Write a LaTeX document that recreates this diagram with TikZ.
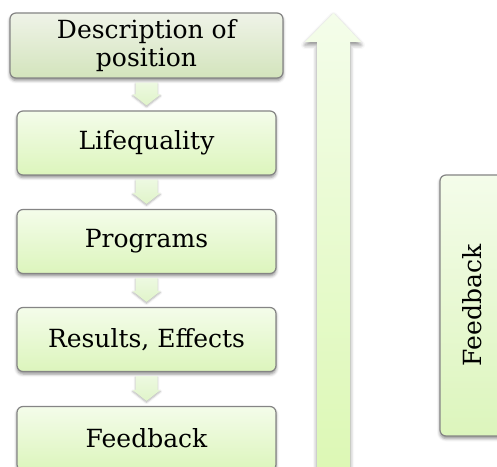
\documentclass[tikz,border=0pt]{standalone}
\usepackage{fontspec}
\setmainfont{DejaVu Serif}
\usetikzlibrary{shadows.blur,calc}

\definecolor{headtop}{HTML}{EFF3E8}
\definecolor{headbottom}{HTML}{D3E4BC}
\definecolor{boxtop}{HTML}{F4FCEA}
\definecolor{boxbottom}{HTML}{DCF5BC}
\definecolor{boxedge}{HTML}{858585}
\definecolor{arrowtop}{HTML}{EDF9E1}
\definecolor{arrowbottom}{HTML}{E0F4C9}
\definecolor{bigtop}{HTML}{F4FDEA}
\definecolor{bigbottom}{HTML}{DCF8B4}

\begin{document}
\begin{tikzpicture}[x=1pt,y=1pt,
  stage/.style={rounded corners=6pt, draw=boxedge, line width=1.2pt,
    top color=boxtop, bottom color=boxbottom,
    minimum width=259pt, minimum height=64pt, inner sep=0pt,
    font=\fontsize{25}{28}\selectfont, align=center,
    blur shadow={shadow xshift=0pt, shadow yshift=-2.5pt,
      shadow blur radius=3pt, shadow opacity=45}},
  headstage/.style={stage, minimum width=273pt, minimum height=65pt,
    top color=headtop, bottom color=headbottom},
  stepdown/.style={top color=arrowtop, bottom color=arrowbottom,
    blur shadow={shadow xshift=0pt, shadow yshift=-1.5pt,
      shadow blur radius=2pt, shadow opacity=30}},
  bigarrow/.style={top color=bigtop, bottom color=bigbottom,
    blur shadow={shadow xshift=0pt, shadow yshift=-3pt,
      shadow blur radius=4pt, shadow opacity=45}},
  sidebox/.style={rounded corners=6pt, draw=boxedge, line width=1.2pt,
    top color=boxtop, bottom color=boxbottom,
    minimum width=65pt, minimum height=261pt,
    blur shadow={shadow xshift=0pt, shadow yshift=-2.5pt,
      shadow blur radius=3pt, shadow opacity=45}},
  sidelabel/.style={rotate=90, font=\fontsize{25}{28}\selectfont}
]
\useasboundingbox (0,0) rectangle (497,466);
\clip (0,0) rectangle (497,466);

% flow of stages
\node[headstage] (desc) at (146.5,420.5) {Description of\\position};
\node[stage] (life) at (146.5,323) {Lifequality};
\node[stage] (prog) at (146.5,224.5) {Programs};
\node[stage] (res)  at (146.5,126.5) {Results, Effects};
\node[stage] (fb)   at (146.5,27.5) {Feedback};

% short block arrows between consecutive stages
\newcommand\stagearrow[2]{%
  \path[stepdown] let \p1=(#1.south), \p2=(#2.north) in
    (\x1-11,\y1-4) -- (\x1+11,\y1-4) -- (\x1+11,\y2+16) -- (\x1+14,\y2+16)
    -- (\x1,\y2+5) -- (\x1-14,\y2+16) -- (\x1-11,\y2+16) -- cycle;}
\stagearrow{desc}{life}
\stagearrow{life}{prog}
\stagearrow{prog}{res}
\stagearrow{res}{fb}

% long upward return arrow
\path[bigarrow] (317,-10) -- (350,-10) -- (350,424) -- (361,424)
  -- (333.5,453) -- (305,424) -- (317,424) -- cycle;

% feedback box on the right
\node[sidebox] (loop) at (472.5,160.5) {};
\node[sidelabel] (looplabel) at (loop.center) {Feedback};
\end{tikzpicture}
\end{document}
